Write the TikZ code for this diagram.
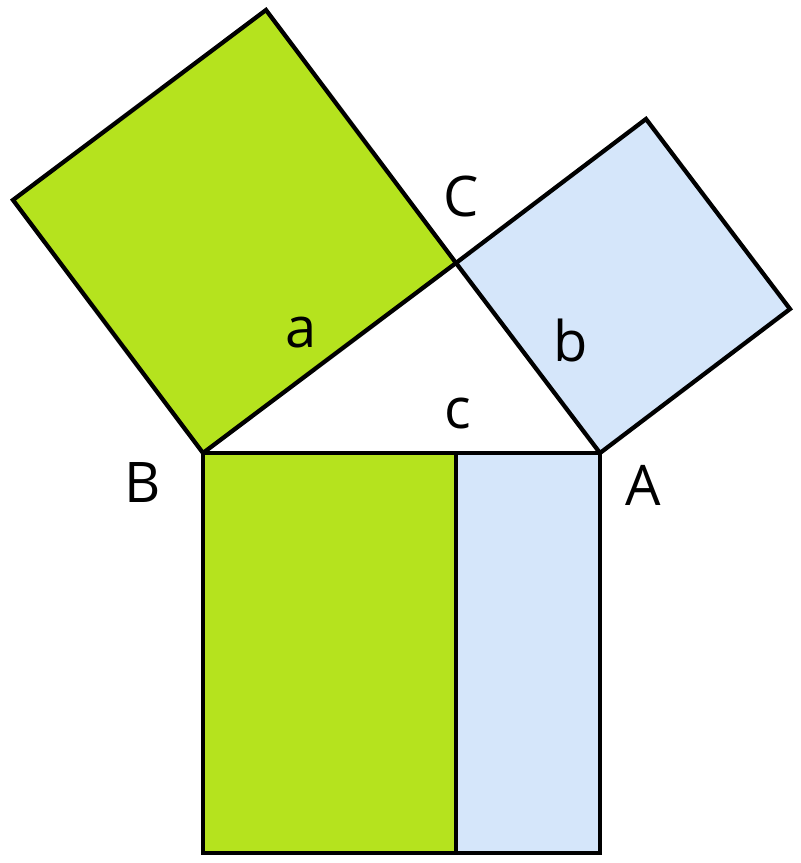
\documentclass[tikz,border=0pt]{standalone}
\usepackage{fontspec}
\setmainfont{Open Sans}
\definecolor{sqgreen}{RGB}{181,227,30}
\definecolor{sqblue}{RGB}{213,230,250}
\tikzset{
	side/.style={line width=3.2pt,line join=miter},
	vertex/.style={inner sep=0pt,font=\fontsize{42}{50}\selectfont}
}
\begin{document}
\begin{tikzpicture}[x=0.75pt,y=-0.75pt]
	\useasboundingbox (0,0) rectangle (800,863);
	\coordinate (B) at (203,453);
	\coordinate (A) at (600,453);
	\coordinate (C) at (456,263);
	\coordinate (H) at (456,453);
	\coordinate (Bd) at (203,853);
	\coordinate (Ad) at (600,853);
	\coordinate (Hd) at (456,853);
	% squares on the legs
	\filldraw[side,fill=sqgreen] (B) -- (C) -- (266,10) -- (13,200) -- cycle;
	\filldraw[side,fill=sqblue] (C) -- (A) -- (790,309) -- (646,119) -- cycle;
	% square on the hypotenuse
	\fill[sqgreen] (B) rectangle (Hd);
	\fill[sqblue] (H) rectangle (Ad);
	\draw[side] (B) -- (A) -- (Ad) -- (Bd) -- cycle;
	\draw[side] (H) -- (Hd);
	% labels
	\node[vertex] (lC) at (461,196) {C};
	\node[vertex] (lB) at (143,483) {B};
	\node[vertex] (lA) at (643,485) {A};
	\node[vertex] (la) at (301,333) {a};
	\node[vertex] (lb) at (571,340) {b};
	\node[vertex] (lc) at (458,414) {c};
\end{tikzpicture}
\end{document}
